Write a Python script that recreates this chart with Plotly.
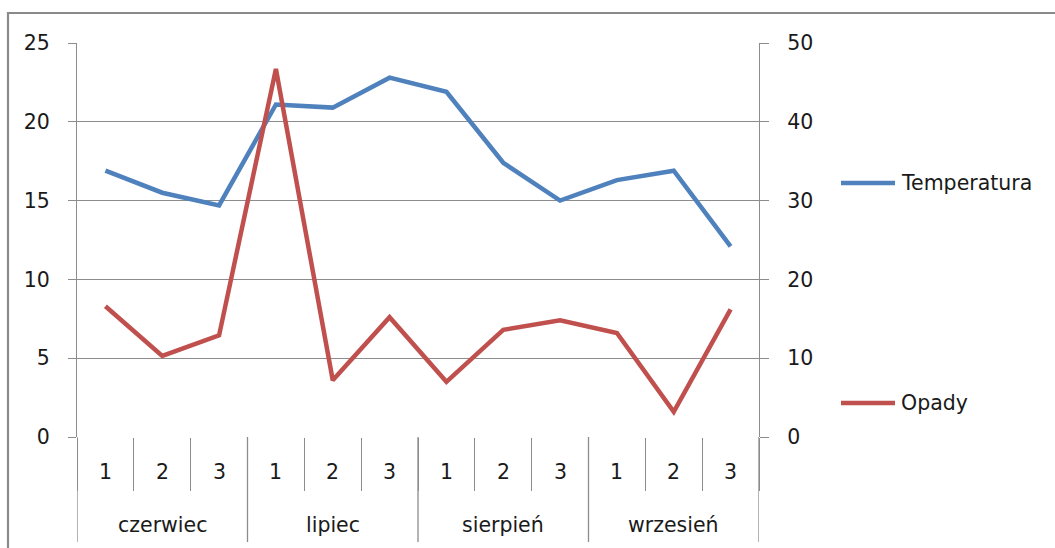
import plotly.graph_objects as go

months = ["czerwiec", "lipiec", "sierpień", "wrzesień"]
dekady = ["1", "2", "3"]
temperatura = [16.9, 15.5, 14.7, 21.1, 20.9, 22.8, 21.9, 17.4, 15.0, 16.3, 16.9, 12.1]
opady = [16.6, 10.3, 12.9, 46.7, 7.2, 15.2, 7.0, 13.6, 14.8, 13.2, 3.2, 16.2]
series_names = ["Temperatura", "Opady"]
colors = ["#4F81BD", "#C0504D"]

FONT = "DejaVu Sans"
FS = 20.5
TXT = "#1a1a1a"
GRID = "#8C8C8C"
n = len(months) * len(dekady)
xs = list(range(n))

W, H = 1055, 548
L, R, T, B = 77, 1055 - 759, 43, 548 - 437
pw, ph = W - L - R, H - T - B

def px_x(p):
    return (p - L) / pw

def px_y(p):
    return (H - B - p) / ph

fig = go.Figure()
fig.add_trace(go.Scatter(x=xs, y=temperatura, name=series_names[0], mode="lines",
                         line=dict(color=colors[0], width=4.5), yaxis="y"))
fig.add_trace(go.Scatter(x=xs, y=opady, name=series_names[1], mode="lines",
                         line=dict(color=colors[1], width=4.5), yaxis="y2"))

shapes = []
# month dividers (long)
for g in range(len(months) + 1):
    xb = g * len(dekady) - 0.5
    shapes.append(dict(type="line", xref="x", yref="paper", x0=xb, x1=xb,
                       y0=0, y1=px_y(542), line=dict(color=GRID, width=1.3)))
# outer frame
shapes.append(dict(type="line", xref="paper", yref="paper", x0=px_x(7), x1=px_x(1100),
                   y0=px_y(13), y1=px_y(13), line=dict(color="#8A8A8A", width=2.2)))
shapes.append(dict(type="line", xref="paper", yref="paper", x0=px_x(8), x1=px_x(8),
                   y0=px_y(12), y1=px_y(600), line=dict(color="#8A8A8A", width=2.2)))

annotations = []
for i in xs:
    annotations.append(dict(x=i, y=px_y(472), xref="x", yref="paper", text=dekady[i % 3],
                            showarrow=False, xanchor="center", yanchor="middle",
                            font=dict(family=FONT, size=FS, color=TXT)))
for g, m in enumerate(months):
    annotations.append(dict(x=g * 3 + 1, y=px_y(525), xref="x", yref="paper", text=m,
                            showarrow=False, xanchor="center", yanchor="middle",
                            font=dict(family=FONT, size=FS, color=TXT)))

legend_y = [183, 403]
for k, nm in enumerate(series_names):
    shapes.append(dict(type="line", xref="paper", yref="paper", x0=px_x(841), x1=px_x(895),
                       y0=px_y(legend_y[k]), y1=px_y(legend_y[k]),
                       line=dict(color=colors[k], width=4.5)))
    annotations.append(dict(x=px_x(899), y=px_y(legend_y[k]), xref="paper", yref="paper",
                            text=nm, showarrow=False, xanchor="left", yanchor="middle",
                            font=dict(family=FONT, size=FS, color=TXT)))

fig.update_layout(
    width=W, height=H,
    margin=dict(l=L, r=R, t=T, b=B, pad=0),
    paper_bgcolor="white", plot_bgcolor="white",
    showlegend=False,
    font=dict(family=FONT, size=FS, color=TXT),
    xaxis=dict(range=[-0.5, n - 0.5], tickvals=[i - 0.5 for i in range(n + 1)],
               ticks="outside", ticklen=53, tickcolor=GRID, tickwidth=1.3,
               showticklabels=False, showgrid=False, zeroline=False,
               showline=False),
    yaxis=dict(range=[0, 25], dtick=5, ticks="outside", ticklen=8, tickcolor=GRID, tickwidth=1.3,
               showgrid=True, gridcolor=GRID, gridwidth=1.3, zeroline=False,
               showline=True, linecolor=GRID, linewidth=1.3, ticklabelstandoff=14,
               tickfont=dict(family=FONT, size=FS, color=TXT)),
    yaxis2=dict(range=[0, 50], dtick=10, ticks="outside", ticklen=9, tickcolor=GRID, tickwidth=1.3,
                overlaying="y", side="right", showgrid=False, zeroline=False,
                showline=True, linecolor=GRID, linewidth=1.3, ticklabelstandoff=14,
                tickfont=dict(family=FONT, size=FS, color=TXT)),
    shapes=shapes, annotations=annotations,
)

fig.write_html("out.html", post_script="document.body.style.margin='0';",
               config={"displayModeBar": False})
